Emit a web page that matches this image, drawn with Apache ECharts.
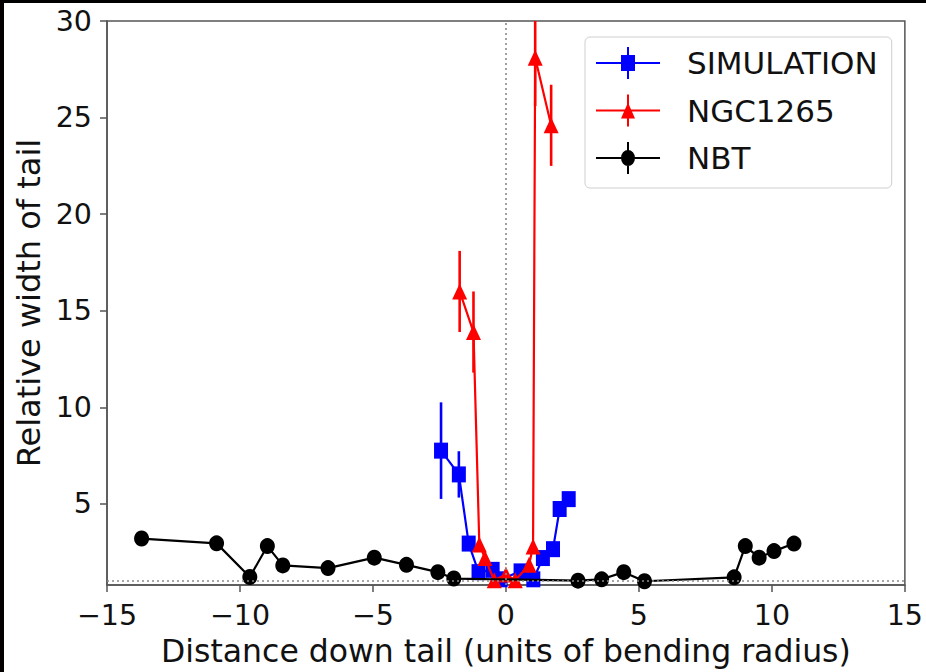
<!DOCTYPE html>
<html>
<head>
<meta charset="utf-8">
<script src="https://cdn.jsdelivr.net/npm/echarts@6/dist/echarts.min.js"></script>
<style>
  html, body { margin: 0; padding: 0; background: #fff; }
  #chart { width: 926px; height: 672px; }
</style>
</head>
<body>
<div id="chart"></div>
<script>
// Relative tail width versus distance down the tail
const simX   = [-2.44, -1.77, -1.40, -1.03, -0.50, -0.20, 0.55, 1.03, 1.39, 1.77, 2.02, 2.36];
const simY   = [7.76, 6.53, 2.95, 1.47, 1.59, 1.10, 1.51, 1.10, 2.20, 2.66, 4.74, 5.25];
const simErr = [2.50, 1.20, 0.15, 0.10, 0.10, 0.10, 0.10, 0.10, 0.15, 0.20, 0.35, 0.35];

const ngcX   = [-1.74, -1.22, -1.00, -0.79, -0.44, 0.00, 0.35, 0.87, 1.02, 1.10, 1.70];
const ngcY   = [16.0, 13.9, 2.90, 2.20, 1.05, 1.35, 1.05, 1.85, 2.80, 28.1, 24.6];
const ngcErr = [2.10, 2.10, 0.10, 0.10, 0.10, 0.10, 0.10, 0.10, 0.10, 2.50, 2.10];

const nbtX   = [-13.70, -10.88, -9.63, -8.97, -8.39, -6.69, -4.95, -3.74, -2.56, -1.96,
                2.71, 3.60, 4.43, 5.21, 8.58, 9.00, 9.52, 10.08, 10.83];
const nbtY   = [3.21, 2.96, 1.22, 2.82, 1.82, 1.68, 2.22, 1.85, 1.47, 1.14,
                1.03, 1.10, 1.47, 1.00, 1.20, 2.82, 2.22, 2.56, 2.95];

const yTicks = [5, 10, 15, 20, 25, 30];

const BLUE = '#0000ff', RED = '#ff0000', BLACK = '#000000';
const FONT = 'DejaVu Sans';

const pts = (xs, ys) => xs.map((x, i) => [x, ys[i]]);
const bars = (xs, ys, es) => xs.map((x, i) => [x, ys[i] - es[i], ys[i] + es[i]]);

function errorSeries(name, data, color, z) {
  return {
    type: 'custom', name: name + ' err', data: data, z: z, clip: true, silent: true,
    encode: { x: 0, y: [1, 2] },
    renderItem: function (params, api) {
      const a = api.coord([api.value(0), api.value(1)]);
      const b = api.coord([api.value(0), api.value(2)]);
      return { type: 'line', shape: { x1: a[0], y1: a[1], x2: b[0], y2: b[1] },
               style: { stroke: color, lineWidth: 2.6 } };
    }
  };
}

function lineSeries(name, data, color, symbol, size, z) {
  return {
    type: 'line', name: name, data: data, z: z, symbol: symbol, symbolSize: size,
    showSymbol: true, clip: true,
    lineStyle: { color: color, width: 2.2 }, itemStyle: { color: color }
  };
}

// legend glyphs: line, error bar and marker
const barPath = 'M0 15 H64 V17 H0 Z M31 0 H33 V32 H31 Z ';
const iconSquare = 'path://' + barPath + 'M25 8 H39 V24 H25 Z';
const iconTri    = 'path://' + barPath + 'M25 24 L32 8 L39 24 Z';
const iconDot    = 'path://' + barPath + 'M25 16 A7 8 0 1 1 39 16 A7 8 0 1 1 25 16 Z';

const chart = echarts.init(document.getElementById('chart'), null, { renderer: 'svg' });
chart.setOption({
  animation: false,
  backgroundColor: '#ffffff',
  textStyle: { fontFamily: FONT },
  grid: { left: 107, right: 16, top: 21, bottom: 80, show: true,
          borderColor: '#555', borderWidth: 1.5, backgroundColor: 'transparent' },
  xAxis: {
    type: 'value', min: -15, max: 15, interval: 5,
    name: 'Distance down tail (units of bending radius)',
    nameLocation: 'middle', nameGap: 32,
    nameTextStyle: { fontSize: 31.5, color: '#111', fontFamily: FONT },
    axisLine: { onZero: false, lineStyle: { color: '#555', width: 1.5 } },
    axisTick: { show: true, length: 7, lineStyle: { color: '#555', width: 1.5 } },
    axisLabel: { fontSize: 28.5, color: '#111', margin: 16, fontFamily: FONT,
                 formatter: v => (v < 0 ? '\u2212' + Math.abs(v) : String(v)) },
    splitLine: { show: false }
  },
  yAxis: {
    type: 'value', min: 0.8, max: 30,
    name: 'Relative width of tail',
    nameLocation: 'middle', nameGap: 62, nameRotate: 90,
    nameTextStyle: { fontSize: 32, color: '#111', fontFamily: FONT },
    axisLine: { show: true, onZero: false, lineStyle: { color: '#555', width: 1.5 } },
    axisTick: { show: true, length: 7, customValues: yTicks, lineStyle: { color: '#555', width: 1.5 } },
    axisLabel: { fontSize: 28.5, color: '#111', margin: 15, fontFamily: FONT, customValues: yTicks },
    splitLine: { show: false }
  },
  legend: {
    show: true, orient: 'vertical', left: 585, top: 37,
    padding: [10, 14, 14, 11], itemGap: 15.5, itemWidth: 64, itemHeight: 32,
    backgroundColor: '#fff', borderColor: '#cfcfcf', borderWidth: 1, borderRadius: 5,
    textStyle: { fontSize: 31, color: '#111', fontFamily: FONT, lineHeight: 32, padding: [0, 0, 0, 22] },
    data: [
      { name: 'SIMULATION', icon: iconSquare, itemStyle: { color: BLUE } },
      { name: 'NGC1265', icon: iconTri, itemStyle: { color: RED } },
      { name: 'NBT', icon: iconDot, itemStyle: { color: BLACK } }
    ]
  },
  graphic: [
    { type: 'rect', left: 0, top: 0, shape: { width: 926, height: 3 }, style: { fill: '#000' }, z: 100 },
    { type: 'rect', left: 0, top: 0, shape: { width: 4, height: 672 }, style: { fill: '#050000' }, z: 100 }
  ],
  series: [
    {
      type: 'line', name: 'guides', data: [], z: 1, silent: true,
      markLine: {
        silent: true, symbol: 'none', label: { show: false },
        lineStyle: { color: '#8a8a8a', width: 1.6, type: [2, 3] },
        data: [{ xAxis: 0 }, { yAxis: 1 }]
      }
    },
    errorSeries('SIMULATION', bars(simX, simY, simErr), BLUE, 2),
    lineSeries('SIMULATION', pts(simX, simY), BLUE, 'rect', [14, 16], 2),
    errorSeries('NGC1265', bars(ngcX, ngcY, ngcErr), RED, 3),
    lineSeries('NGC1265', pts(ngcX, ngcY), RED, 'triangle', [15, 16], 3),
    lineSeries('NBT', pts(nbtX, nbtY), BLACK, 'circle', [15, 16], 4)
  ]
});
</script>
</body>
</html>
